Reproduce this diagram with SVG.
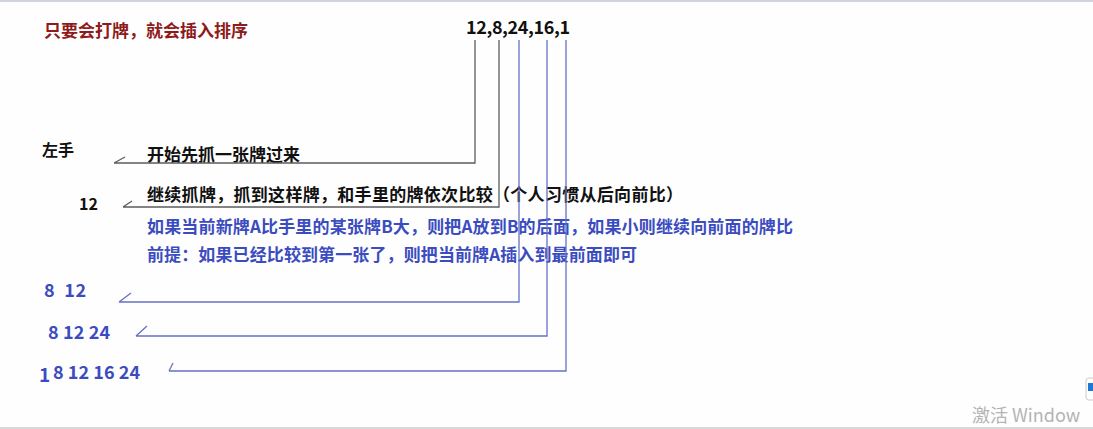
<svg xmlns="http://www.w3.org/2000/svg" width="1093" height="429" viewBox="0 0 1093 429">
<style>
.t{font-family:"Noto Sans CJK SC","Noto Sans",sans-serif;font-weight:bold;font-size:17px}
.n{font-size:18px}
.k{fill:#111}
.b{fill:#3b4cc0}
.r{fill:#8e1a1a}
.g{fill:none;stroke:#5c5c5c;stroke-width:1.3}
.bl{fill:none;stroke:#6570c8;stroke-width:1.3}
</style>
<rect width="1093" height="429" fill="#fefefe"/>
<rect width="1093" height="2" fill="#cfd4de"/>
<g id="title"><text class="t r" x="44" y="37">只要会打牌，就会插入排序</text></g>
<g id="sequence"><text class="t k n" x="466" y="34" textLength="104">12,8,24,16,1</text></g>
<g id="left-hand"><text class="t k" x="42" y="156" style="font-size:16px">左手</text></g>
<g id="step1"><text class="t k" x="147" y="161">开始先抓一张牌过来</text></g>
<g id="hand12"><text class="t k" x="79" y="210" style="font-size:16px">12</text></g>
<g id="step2"><text class="t k" x="147" y="201" textLength="536">继续抓牌，抓到这样牌，和手里的牌依次比较（个人习惯从后向前比）</text></g>
<g id="rule"><text class="t b" x="147" y="233" textLength="646">如果当前新牌A比手里的某张牌B大，则把A放到B的后面，如果小则继续向前面的牌比</text></g>
<g id="premise"><text class="t b" x="147" y="261" textLength="490">前提：如果已经比较到第一张了，则把当前牌A插入到最前面即可</text></g>
<g id="hand2"><text class="t b n" x="44" y="297" xml:space="preserve" textLength="42">8  12</text></g>
<g id="hand3"><text class="t b n" x="48" y="339" textLength="62">8 12 24</text></g>
<g id="hand5"><text class="t b" x="39" y="382" style="font-size:19px">1</text><text class="t b n" x="53" y="379" textLength="87">8 12 16 24</text></g>
<g id="connectors">
<path class="g" d="M475,40 V163 H114 M114,163 L125,157"/>
<path class="g" d="M499,40 V207 H123 M123,207 L132,201"/>
<path class="bl" d="M519,40 V302 H119 M119,302 L131,293"/>
<path class="bl" d="M547,40 V336 H136 M136,336 L147,326"/>
<path class="bl" d="M566,40 V371 H169 M169,371 L173,363"/>
</g>
<g id="watermark">
<text x="972" y="422" style="font-family:'Noto Sans CJK SC','Noto Sans',sans-serif;font-size:18px;fill:#b4b4b4">激活 Window</text>
<rect x="1086" y="378" width="12" height="22" rx="3" fill="#fff" stroke="#ccc"/>
<rect x="1088" y="383" width="6" height="8" fill="#1e78d8"/>
</g>
<rect y="427" width="1093" height="2" fill="#d8d8d8"/>
</svg>
